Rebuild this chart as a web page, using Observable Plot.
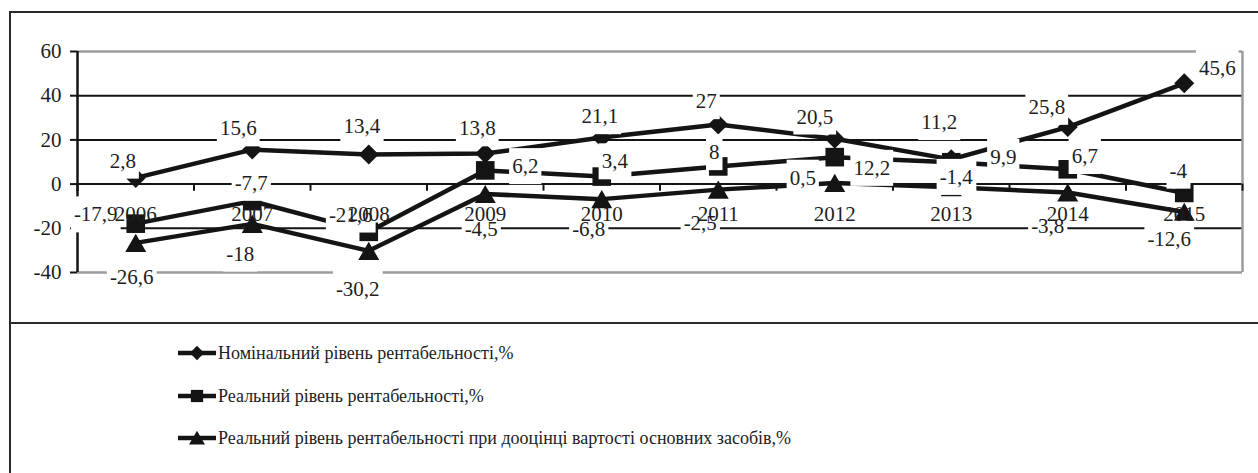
<!DOCTYPE html>
<html><head><meta charset="utf-8">
<script src="https://cdn.jsdelivr.net/npm/d3@7"></script>
<script src="https://cdn.jsdelivr.net/npm/@observablehq/plot@0.6"></script>
<style>
body{margin:0;background:#fff}
#wrap{position:relative;width:1258px;height:473px;overflow:hidden;background:#fff;font-family:"Liberation Serif","Times New Roman",serif;color:#1e1e1e}
#chart{position:absolute;left:0;top:0}
.frame{position:absolute;left:9px;top:11px;width:1300px;height:500px;border-left:2px solid #2a2a2a;border-top:2px solid #2a2a2a}
.sep{position:absolute;left:9px;top:322px;width:1300px;height:2px;background:#2a2a2a}
.lrow{position:absolute;left:178px;height:24px;display:flex;align-items:center;white-space:nowrap}
.lrow span{font-family:"Liberation Serif",serif;font-weight:400;font-size:18px;margin-left:2px;color:#222}
</style></head><body>
<div id="wrap"><div id="chart"></div><div id="legend"></div><div class="frame"></div><div class="sep"></div></div>
<script>
const years = ["2006","2007","2008","2009","2010","2011","2012","2013","2014","2015"];
const nominal = [2.8, 15.6, 13.4, 13.8, 21.1, 27, 20.5, 11.2, 25.8, 45.6];
const real = [-17.9, -7.7, -21.6, 6.2, 3.4, 8, 12.2, 9.9, 6.7, -4];
const realReval = [-26.6, -18, -30.2, -4.5, -6.8, -2.5, 0.5, -1.4, -3.8, -12.6];
const seriesNames = [
  "Номінальний рівень рентабельності,%",
  "Реальний рівень рентабельності,%",
  "Реальний рівень рентабельності при дооцінці вартості основних засобів,%"
];
const yTicks = [-40, -20, 0, 20, 40, 60];

// styling: marker symbols and per-label offsets (pixels)
const symbols = ["diamond2", "square", "triangle"];
const symbolR = [9, 10.5, 7.8];
const symbolDy = [0, 0, 3];
const labelOffsets = [
  [[-13,-17],[-14,-21],[-7,-28],[-8,-25],[-2,-21],[-12,-23],[-20,-22],[-12,-37],[-21,-20],[33,-15]],
  [[-40,-9],[-1,-18],[-18,-17],[40,-4],[13,-15],[-4,-14],[37,11],[52,-5],[17,-13],[-6,-22]],
  [[-4,34],[-12,30],[-11,38],[-4,35],[-13,30],[-18,34],[-32,-5],[5,-10],[-20,34],[-15,27]]
];

const series = [nominal, real, realReval].map(vals => years.map((y, i) => ({i, year: y, v: vals[i]})));
const fmt = v => String(v).replace(".", ",");
const ink = "#141414";

const marks = [
  Plot.ruleY([40, 20, 0, -20], {stroke: ink, strokeWidth: 2}),
  Plot.ruleY([60, -40], {stroke: "#9c9c9c", strokeWidth: 2.5}),
  Plot.ruleX([9.5], {stroke: "#9c9c9c", strokeWidth: 2.5}),
  Plot.ruleX([-0.5], {stroke: ink, strokeWidth: 2.5}),
  Plot.ruleX(d3.range(-0.5, 10, 1), {y1: 0, y2: -3.2, stroke: ink, strokeWidth: 2}),
  Plot.axisY(yTicks, {tickSize: 7, tickPadding: 9, strokeWidth: 2, stroke: ink, fontSize: 21, fill: "#1e1e1e", label: null, tickFormat: d => String(d)})
];
series.forEach((rows, s) => {
  marks.push(Plot.line(rows, {x: "i", y: "v", stroke: ink, strokeWidth: 4.5}));
});
series.forEach((rows, s) => {
  marks.push(Plot.dot(rows, {x: "i", y: "v", symbol: symbols[s], r: symbolR[s], fill: ink, stroke: "none", dy: symbolDy[s]}));
});
series.forEach((rows, s) => {
  rows.forEach((row, i) => {
    const [dx, dy] = labelOffsets[s][i];
    marks.push(Plot.text([row], {x: "i", y: "v", text: d => fmt(d.v), dx, dy, fontSize: 21, fill: "#1e1e1e", ariaDescription: "dlabel"}));
  });
});
marks.push(Plot.text(years, {x: (d, i) => i, y: d => 0, text: d => d, dy: 30, fontSize: 21, fill: "#1e1e1e"}));

const chart = Plot.plot({
  width: 1258, height: 323,
  marginLeft: 77, marginRight: 16, marginTop: 51, marginBottom: 51,
  x: {domain: [-0.5, 9.5], axis: null},
  y: {domain: [-40, 60], label: null},
  style: {fontFamily: "Liberation Serif, Times New Roman, serif", fontSize: "21px", background: "transparent", overflow: "visible", color: "#1e1e1e"},
  marks
});
document.getElementById("chart").appendChild(chart);

// white boxes behind data labels (sized from the rendered text)
const padX = 3, padY = 6;
chart.querySelectorAll('g[aria-description="dlabel"] text').forEach(t => {
  const bb = t.getBBox();
  const r = document.createElementNS("http://www.w3.org/2000/svg", "rect");
  r.setAttribute("x", bb.x - padX);
  r.setAttribute("y", bb.y - padY);
  r.setAttribute("width", bb.width + 2 * padX);
  r.setAttribute("height", bb.height + 2 * padY);
  r.setAttribute("fill", "#fff");
  if (t.getAttribute("transform")) r.setAttribute("transform", t.getAttribute("transform"));
  t.parentNode.insertBefore(r, t);
});

// legend
const legend = document.getElementById("legend");
const rowTops = [341, 384, 426];
seriesNames.forEach((name, s) => {
  const row = document.createElement("div");
  row.className = "lrow";
  row.style.top = rowTops[s] + "px";
  const sym = d3.symbol(s === 0 ? d3.symbolDiamond2 : s === 1 ? d3.symbolSquare : d3.symbolTriangle, s === 0 ? 130 : s === 1 ? 150 : 110)();
  row.innerHTML = `<svg width="38" height="24"><line x1="0" x2="38" y1="12" y2="12" stroke="${ink}" stroke-width="4.5"/><path d="${sym}" transform="translate(19,${s === 2 ? 14 : 12})" fill="${ink}"/></svg><span>${name}</span>`;
  legend.appendChild(row);
});
</script>
</body></html>
